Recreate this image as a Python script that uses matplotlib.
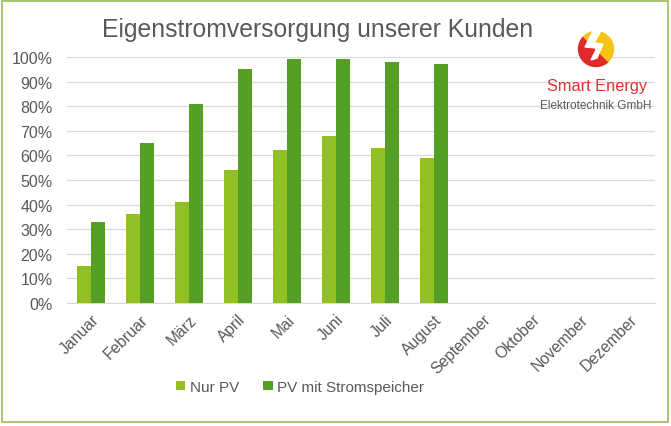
import matplotlib
matplotlib.use("Agg")
import matplotlib.pyplot as plt
import numpy as np
from matplotlib.patches import Wedge, Polygon, Rectangle

months = ["Januar", "Februar", "März", "April", "Mai", "Juni", "Juli",
          "August", "September", "Oktober", "November", "Dezember"]
nur_pv = [15, 36, 41, 54, 62, 68, 63, 59]
pv_speicher = [33, 65, 81, 95, 99, 99.3, 98, 97.3]
yticks = list(range(0, 101, 10))

plt.rcParams['font.family'] = ['Liberation Sans', 'DejaVu Sans']
grey = "#595959"

fig = plt.figure(figsize=(6.71, 4.27), dpi=100)
ax = fig.add_axes([66.5 / 671, 1 - 304 / 427, 588 / 671, 246 / 427])

x = np.arange(len(months))
w = 0.29
ax.bar(x[:len(nur_pv)] - w / 2, nur_pv, w, color="#92C024", label="Nur PV", zorder=3)
ax.bar(x[:len(pv_speicher)] + w / 2, pv_speicher, w, color="#55A024",
       label="PV mit Stromspeicher", zorder=3)

ax.set_xlim(-0.5, len(months) - 0.5)
ax.set_ylim(0, 100)
ax.set_yticks(yticks)
ax.set_yticklabels([f"{t}%" for t in yticks], fontsize=11.5, color=grey)
ax.set_xticks(x)
ax.set_xticklabels(months, rotation=45, ha="right", rotation_mode="anchor",
                   fontsize=11.3, color=grey)
ax.tick_params(length=0, pad=6)
ax.tick_params(axis="y", pad=10)
ax.grid(axis="y", color="#D9D9D9", lw=0.9, zorder=0)
for s in ["top", "right", "left"]:
    ax.spines[s].set_visible(False)
ax.spines["bottom"].set_color("#D9D9D9")

fig.text(318 / 671, 1 - 30 / 427, "Eigenstromversorgung unserer Kunden",
         ha="center", va="center", fontsize=17.8, color=grey)

leg = fig.legend(loc="center", bbox_to_anchor=(300 / 671, 1 - 388 / 427), ncol=2,
                 frameon=False, fontsize=11, handlelength=0.6, handleheight=0.6,
                 handletextpad=0.3, columnspacing=1.6)
for t in leg.get_texts():
    t.set_color(grey)

# logo
cx, cy, r = 596, 50, 17.5
la = fig.add_axes([0, 0, 1, 1], zorder=5)
la.set_xlim(0, 671)
la.set_ylim(427, 0)
la.axis("off")
la.add_patch(Wedge((cx, cy), r, 45, 225, color="#E02A2A"))
la.add_patch(Wedge((cx, cy), r, 225, 405, color="#F6C419"))
bolt = [(cx - 2, cy - 20), (cx - 11, cy - 2), (cx + 1, cy - 1), (cx - 5, cy + 11),
        (cx + 1, cy + 9), (cx + 7, cy - 5), (cx - 2, cy - 6), (cx + 6, cy - 20)]
la.add_patch(Polygon(bolt, closed=True, color="white"))
la.text(597, 87, "Smart Energy", ha="center", va="center", fontsize=11.8, color="#E03030")
la.text(596, 106, "Elektrotechnik GmbH", ha="center", va="center", fontsize=8.5, color=grey)
la.add_patch(Rectangle((2, 2), 666, 421, fill=False, ec="#9BBB59", lw=1.2))

fig.savefig("out.png", dpi=100, facecolor="white")
